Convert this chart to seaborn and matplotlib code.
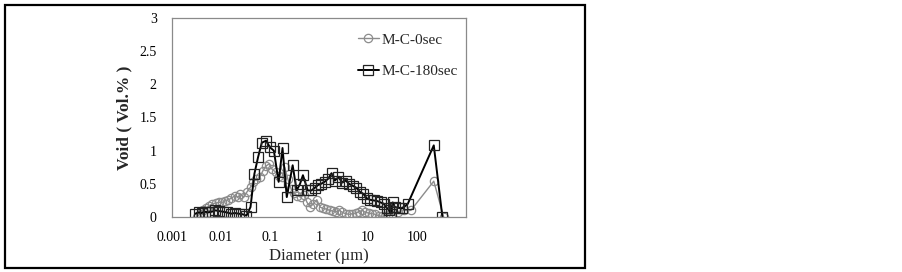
import matplotlib
matplotlib.use("Agg")
import matplotlib.pyplot as plt
import matplotlib.patches as mpatches
import pandas as pd
import seaborn as sns

# ---- data ----
diam_0sec = [0.0032, 0.0037, 0.0043, 0.005, 0.0058, 0.0067, 0.0078, 0.009, 0.0105, 0.012,
             0.014, 0.016, 0.019, 0.022, 0.025, 0.029, 0.034, 0.04, 0.046, 0.053,
             0.062, 0.072, 0.083, 0.096, 0.11, 0.13, 0.15, 0.175, 0.2, 0.23,
             0.27, 0.31, 0.36, 0.42, 0.49, 0.57, 0.66, 0.77, 0.9, 1.05,
             1.2, 1.4, 1.65, 1.9, 2.2, 2.6, 3.0, 3.5, 4.1, 4.8,
             5.6, 6.5, 7.6, 8.8, 10.3, 12, 14, 16.5, 19, 22,
             26, 30, 40, 55, 75, 220, 350]
void_0sec = [0.0, 0.05, 0.1, 0.13, 0.17, 0.2, 0.21, 0.22, 0.22, 0.24,
             0.26, 0.28, 0.32, 0.3, 0.34, 0.3, 0.38, 0.45, 0.53, 0.57,
             0.6, 0.7, 0.77, 0.8, 0.72, 0.68, 0.62, 0.6, 0.75, 0.58,
             0.42, 0.36, 0.32, 0.3, 0.33, 0.22, 0.15, 0.2, 0.26, 0.15,
             0.13, 0.12, 0.1, 0.09, 0.08, 0.1, 0.07, 0.05, 0.04, 0.05,
             0.06, 0.08, 0.1, 0.07, 0.06, 0.05, 0.04, 0.02, 0.01, 0.02,
             0.03, 0.03, 0.08, 0.1, 0.1, 0.54, 0.0]

diam_180sec = [0.003, 0.0035, 0.004, 0.0047, 0.0055, 0.0065, 0.0077, 0.009, 0.011, 0.013,
               0.016, 0.019, 0.023, 0.028, 0.033, 0.04, 0.048, 0.057, 0.068, 0.083,
               0.1, 0.12, 0.15, 0.18, 0.22, 0.29, 0.35, 0.41, 0.47, 0.59,
               0.7, 0.82, 0.95, 1.1, 1.3, 1.55, 1.8, 2.1, 2.5, 3.0,
               3.5, 4.1, 4.9, 5.8, 6.8, 8.0, 9.5, 11, 13, 15.5,
               18, 21, 24, 27, 29, 32, 35, 42, 50, 65,
               220, 330]
void_180sec = [0.05, 0.07, 0.06, 0.08, 0.07, 0.08, 0.1, 0.09, 0.08, 0.07,
               0.05, 0.06, 0.05, 0.04, 0.02, 0.15, 0.65, 0.9, 1.12, 1.15,
               1.05, 1.0, 0.53, 1.04, 0.3, 0.78, 0.4, 0.5, 0.63, 0.4,
               0.4, 0.44, 0.48, 0.5, 0.53, 0.58, 0.66, 0.55, 0.6, 0.52,
               0.55, 0.5, 0.47, 0.44, 0.38, 0.35, 0.28, 0.26, 0.25, 0.24,
               0.22, 0.2, 0.14, 0.1, 0.05, 0.22, 0.15, 0.14, 0.13, 0.2,
               1.08, 0.0]

y_ticks = [0, 0.5, 1, 1.5, 2, 2.5, 3]
y_tick_labels = ["0", "0.5", "1", "1.5", "2", "2.5", "3"]
x_ticks = [0.001, 0.01, 0.1, 1, 10, 100]
x_tick_labels = ["0.001", "0.01", "0.1", "1", "10", "100"]

df0 = pd.DataFrame({"Diameter": diam_0sec, "Void": void_0sec})
df1 = pd.DataFrame({"Diameter": diam_180sec, "Void": void_180sec})

# ---- style ----
sns.set_theme(style="white")
plt.rcParams["font.family"] = ["Liberation Serif", "DejaVu Serif"]

fig = plt.figure(figsize=(9.03, 2.72), dpi=100)
ax = fig.add_axes([172 / 903, 1 - 217 / 272, 294 / 903, 199 / 272])

gray = "#8c8c8c"
sns.lineplot(data=df0, x="Diameter", y="Void", ax=ax, color=gray, lw=1.0,
             marker="o", markersize=6, mfc="none", mec=gray, mew=0.9,
             label="M-C-0sec", sort=False)
sns.lineplot(data=df1, x="Diameter", y="Void", ax=ax, color="black", lw=1.4,
             marker="s", markersize=7, mfc="none", mec="#222222", mew=0.9,
             label="M-C-180sec", sort=False)

ax.set_xscale("log")
ax.set_xlim(0.001, 1000)
ax.set_ylim(0, 3)
ax.set_xticks(x_ticks)
ax.set_xticklabels(x_tick_labels)
ax.minorticks_off()
ax.set_yticks(y_ticks)
ax.set_yticklabels(y_tick_labels)
ax.tick_params(axis="both", length=0, labelsize=10, colors="black")
ax.tick_params(axis="y", pad=11)
ax.tick_params(axis="x", pad=10)

for sp in ax.spines.values():
    sp.set_color("#8a8a8a")
    sp.set_linewidth(0.9)

ax.set_xlabel("Diameter (µm)", fontsize=12, labelpad=3)
ax.set_ylabel("Void ( Vol.% )", fontsize=12.5, fontweight="bold", labelpad=5)

ax.legend(loc="upper left", bbox_to_anchor=(0.633, 0.925), frameon=False,
          fontsize=11, handlelength=1.35, handletextpad=0.2,
          labelspacing=1.15, borderpad=0, borderaxespad=0)

# outer frame around the chart
fig.patches.append(mpatches.Rectangle((5 / 903, 1 - 268 / 272), 580 / 903, 263 / 272,
                                      transform=fig.transFigure, fill=False,
                                      edgecolor="black", linewidth=1.6))

fig.savefig("out.png", dpi=100)
